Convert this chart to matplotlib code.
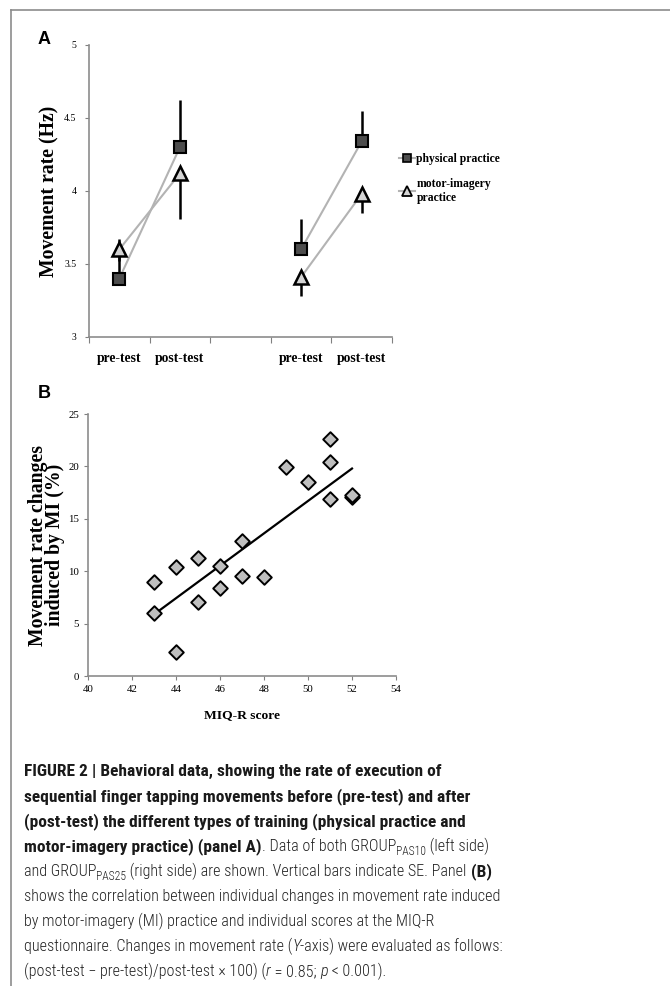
import matplotlib
matplotlib.use("Agg")
import matplotlib.pyplot as plt
import numpy as np
from matplotlib.lines import Line2D
from matplotlib import font_manager as fm

# ---- panel A data ----
cats = ["pre-test", "post-test", "", "pre-test", "post-test"]
left_pos = [0, 1]
right_pos = [3, 4]
phys_left = [3.40, 4.30]
phys_right = [3.60, 4.34]
mi_left = [3.60, 4.12]
mi_right = [3.41, 3.98]
# one-sided SE bars: physical upward, motor-imagery downward
phys_left_err = [0.27, 0.32]
phys_right_err = [0.21, 0.21]
mi_left_err = [0.08, 0.31]
mi_right_err = [0.13, 0.13]

# ---- panel B data ----
miq = [43, 43, 44, 44, 45, 45, 46, 46, 47, 47, 48, 49, 50, 51, 51, 51, 52, 52]
change = [9.0, 6.0, 10.4, 2.3, 11.3, 7.1, 10.5, 8.4, 12.9, 9.5, 9.4,
          19.9, 18.5, 22.6, 20.4, 16.9, 17.1, 17.3]

SERIF = ["Liberation Serif", "DejaVu Serif"]
have = {f.name for f in fm.fontManager.ttflist}
if "Roboto Condensed" in have:
    CAP, fs_b, fs_n, w_n = ["Roboto Condensed", "DejaVu Sans"], 12.5, 11.6, 300
else:
    CAP, fs_b, fs_n, w_n = ["Liberation Sans", "DejaVu Sans"], 10.4, 9.8, "normal"

fig = plt.figure(figsize=(6.70, 9.86), dpi=100)

# frame around the figure (top + left visible)
fig.add_artist(Line2D([11/670, 1.0], [1-10/986, 1-10/986], color="#8c8c8c", lw=1.2))
fig.add_artist(Line2D([11/670, 11/670], [1-10/986, 0.0], color="#8c8c8c", lw=1.2))

# ---------- panel A ----------
ax = fig.add_axes([89/670, 1-337/986, (392-89)/670, (337-45)/986])
lc = "#b3b3b3"
for pos, ph, mi, pe, me in [(left_pos, phys_left, mi_left, phys_left_err, mi_left_err),
                            (right_pos, phys_right, mi_right, phys_right_err, mi_right_err)]:
    ax.plot(pos, ph, color=lc, lw=1.5, zorder=1)
    ax.plot(pos, mi, color=lc, lw=1.5, zorder=1)
    ax.errorbar(pos, ph, yerr=[[0]*2, pe], fmt="none", ecolor="black", elinewidth=1.8, capsize=0, zorder=2)
    ax.errorbar(pos, mi, yerr=[me, [0]*2], fmt="none", ecolor="black", elinewidth=1.8, capsize=0, zorder=2)
    ax.plot(pos, ph, ls="none", marker="s", ms=8.5, mfc="#4d4d4d", mec="black", mew=1.5, zorder=3)
    ax.plot(pos, mi, ls="none", marker="^", ms=10.5, mfc="#d4d4d4", mec="black", mew=1.8, zorder=3)

ax.set_xlim(-0.5, 4.5)
ax.set_ylim(3, 5)
ax.set_yticks([3, 3.5, 4, 4.5, 5])
ax.set_yticklabels(["3", "3.5", "4", "4.5", "5"], family=SERIF, fontsize=7)
ax.set_xticks(np.arange(-0.5, 5, 1))
ax.set_xticklabels([])
ax.set_xticks(np.arange(len(cats)), minor=True)
ax.set_xticklabels(cats, minor=True, family=SERIF, fontsize=9.8, fontweight="bold")
ax.tick_params(axis="x", which="minor", length=0, pad=10.5)
ax.tick_params(axis="x", which="major", length=4, color="#808080")
ax.tick_params(axis="y", length=3, color="#808080", pad=6)
for s in ["top", "right"]:
    ax.spines[s].set_visible(False)
for s in ["left", "bottom"]:
    ax.spines[s].set_color("#8c8c8c")
    ax.spines[s].set_linewidth(1.2)
ax.set_ylabel("Movement rate (Hz)", family=SERIF, fontsize=14.2, fontweight="bold", labelpad=3)

handles = [Line2D([], [], color=lc, lw=1.5, marker="s", ms=6, mfc="#4d4d4d", mec="black", mew=1.2),
           Line2D([], [], color=lc, lw=1.5, marker="^", ms=6.5, mfc="#d4d4d4", mec="black", mew=1.3)]
leg = ax.legend(handles, ["physical practice", "motor-imagery\npractice"], loc="upper left",
                bbox_to_anchor=(0.99, 0.665), frameon=False, handlelength=1.3, handletextpad=0.15,
                labelspacing=1.1, prop={"family": SERIF, "weight": "bold", "size": 8.4})

fig.text(38/670, 1-40/986, "A", fontsize=13, fontweight="bold", family=["Liberation Sans"], va="center")

# ---------- panel B ----------
bx = fig.add_axes([88/670, 1-676/986, (396-88)/670, (676-414)/986])
bx.scatter(miq, change, marker="D", s=55, c="#bfbfbf", edgecolors="black", linewidths=1.4, zorder=3)
k, b = np.polyfit(miq, change, 1)
xf = np.array([min(miq), max(miq)])
bx.plot(xf, k * xf + b, color="black", lw=1.6, zorder=2)
bx.set_xlim(40, 54)
bx.set_ylim(0, 25)
bx.set_xticks(np.arange(40, 55, 2))
bx.set_yticks(np.arange(0, 26, 5))
for t in bx.get_xticklabels() + bx.get_yticklabels():
    t.set_family(SERIF)
    t.set_fontsize(7.8)
bx.tick_params(length=3, color="#808080")
for s in ["top", "right"]:
    bx.spines[s].set_visible(False)
for s in ["left", "bottom"]:
    bx.spines[s].set_color("#8c8c8c")
    bx.spines[s].set_linewidth(1.2)
bx.set_xlabel("MIQ-R score", family=SERIF, fontsize=9.7, fontweight="bold", labelpad=11)
bx.set_ylabel("Movement rate changes\ninduced by MI (%)", family=SERIF, fontsize=14.2,
              fontweight="bold", linespacing=0.85, labelpad=2)

fig.text(38/670, 1-393/986, "B", fontsize=13, fontweight="bold", family=["Liberation Sans"], va="center")

# ---------- caption ----------
bold_c = "#1a1a1a"
norm_c = "#222222"
lines = [
    [("FIGURE 2 | Behavioral data, showing the rate of execution of", "bold", "normal", 0)],
    [("sequential finger tapping movements before (pre-test) and after", "bold", "normal", 0)],
    [("(post-test) the different types of training (physical practice and", "bold", "normal", 0)],
    [("motor-imagery practice) (panel A)", "bold", "normal", 0), (". Data of both GROUP", "normal", "normal", 0),
     ("PAS10", "normal", "normal", 1), (" (left side)", "normal", "normal", 0)],
    [("and GROUP", "normal", "normal", 0), ("PAS25", "normal", "normal", 1),
     (" (right side) are shown. Vertical bars indicate SE. Panel ", "normal", "normal", 0), ("(B)", "bold", "normal", 0)],
    [("shows the correlation between individual changes in movement rate induced", "normal", "normal", 0)],
    [("by motor-imagery (MI) practice and individual scores at the MIQ-R", "normal", "normal", 0)],
    [("questionnaire. Changes in movement rate (", "normal", "normal", 0), ("Y", "normal", "italic", 0),
     ("-axis) were evaluated as follows:", "normal", "normal", 0)],
    [("(post-test \u2212 pre-test)/post-test \u00d7 100) (", "normal", "normal", 0), ("r", "normal", "italic", 0),
     (" = 0.85; ", "normal", "normal", 0), ("p", "normal", "italic", 0), (" < 0.001).", "normal", "normal", 0)],
]
fig.canvas.draw()
r = fig.canvas.get_renderer()
inv = fig.transFigure.inverted()
y0 = 776
for i, runs in enumerate(lines):
    x = 24 / 670
    ybase = 1 - (y0 + i * 25.0) / 986
    for txt, w, st, sub in runs:
        size = fs_b if w == "bold" else fs_n
        if sub:
            size *= 0.72
        yy = ybase - (4 / 986 if sub else 0)
        t = fig.text(x, yy, txt, fontsize=size, fontweight="bold" if w == "bold" else w_n, style=st,
                     family=CAP, color=bold_c if w == "bold" else norm_c, va="baseline")
        bb = t.get_window_extent(renderer=r)
        x = inv.transform((bb.x1, bb.y0))[0]

fig.savefig("out.png", dpi=100)
